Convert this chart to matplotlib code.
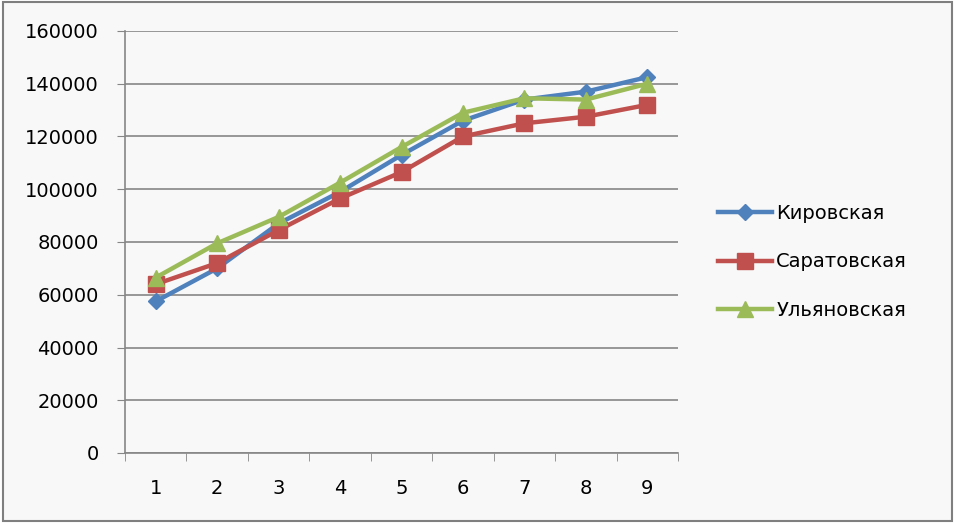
import numpy as np
import matplotlib.pyplot as plt
from matplotlib.patches import Rectangle

plt.rcParams['font.family'] = ['DejaVu Sans']

x = [1, 2, 3, 4, 5, 6, 7, 8, 9]
kirov = [57500, 70000, 87000, 99000, 113000, 126000, 134000, 137000, 142500]
saratov = [64000, 72000, 84500, 96500, 106500, 120000, 125000, 127500, 132000]
ulyanovsk = [66500, 79500, 89500, 102500, 116000, 129000, 134500, 134000, 140000]
labels = ['Кировская', 'Саратовская', 'Ульяновская']

fig = plt.figure(figsize=(9.58, 5.32), dpi=100)
fig.patch.set_facecolor('white')
# outer chart frame
fig.patches.append(Rectangle((3 / 958, 1 - 521 / 532), 949 / 958, 519 / 532,
                             transform=fig.transFigure, facecolor='#f8f8f8',
                             edgecolor='#7f7f7f', lw=1.5, zorder=-1))

ax = fig.add_axes([125 / 958, 1 - 453 / 532, 553 / 958, 422 / 532])
ax.set_facecolor('none')

ax.plot(x, kirov, color='#4F81BD', lw=3.2, marker='D', ms=8.5, label=labels[0])
ax.plot(x, saratov, color='#C0504D', lw=3.2, marker='s', ms=11, label=labels[1])
ax.plot(x, ulyanovsk, color='#9BBB59', lw=3.2, marker='^', ms=11, label=labels[2])

ax.set_xlim(0.5, 9.5)
ax.set_ylim(0, 160000)
ax.set_yticks(np.arange(0, 160001, 20000))
ax.set_xticks(x)
ax.set_xticks(np.arange(0.5, 9.6, 1), minor=True)
ax.tick_params(axis='x', which='major', length=0, pad=19, labelsize=14)
ax.tick_params(axis='x', which='minor', length=6, color='#868686', direction='out')
ax.tick_params(axis='y', length=6, color='#868686', direction='out', pad=13, labelsize=14)
ax.grid(axis='y', color='#868686', lw=1.2)
ax.set_axisbelow(True)
for s in ['top', 'right']:
    ax.spines[s].set_visible(False)
for s in ['left', 'bottom']:
    ax.spines[s].set_color('#868686')
    ax.spines[s].set_linewidth(1.2)

ax.legend(loc='center left', bbox_to_anchor=(1.072, 0.453), frameon=False,
          fontsize=14, handlelength=2.8, labelspacing=1.5, handletextpad=0.2,
          borderaxespad=0, borderpad=0)

plt.savefig('out.png', dpi=100)
